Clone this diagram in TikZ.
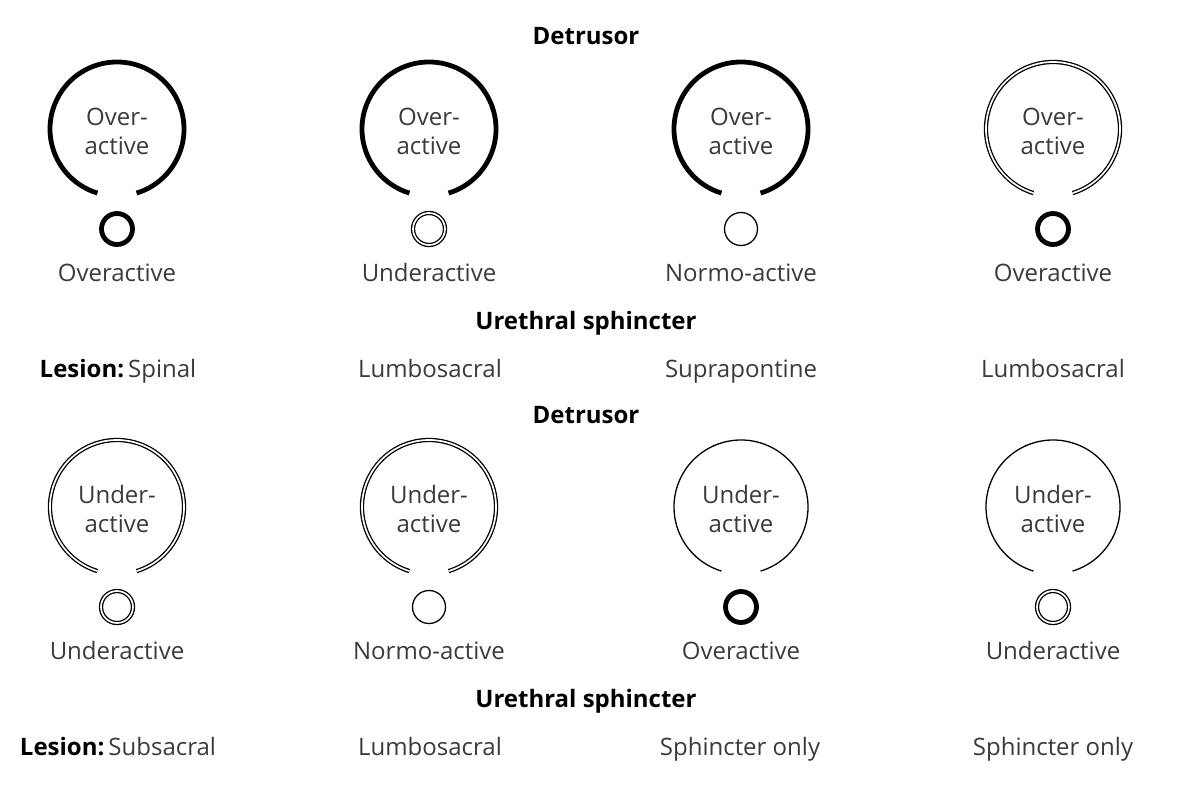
\documentclass[tikz,border=0pt]{standalone}
\usepackage{fontspec}
\setmainfont{Open Sans}
\definecolor{txtgray}{HTML}{3A3A3A}
\begin{document}
\begin{tikzpicture}[x=1pt,y=1pt,
  lbl/.style={font=\fontsize{24}{29}\selectfont, text=txtgray, inner sep=0pt, anchor=base},
  hdr/.style={font=\bfseries\fontsize{24}{29}\selectfont, text=black, inner sep=0pt, anchor=base},
  thickln/.style={draw=black, line width=4.8pt},
  dblln/.style={draw=black, line width=1.3pt, double=white, double distance=1.7pt},
  thinln/.style={draw=black, line width=1.3pt},
  smallc/.style={circle, inner sep=0pt, minimum size=#1},
]
\useasboundingbox (0,0) rectangle (1177,-800);

% column centres
\foreach \r/\dy in {1/0,2/378}{
  \foreach \c/\x in {1/117,2/429,3/741,4/1053}{
    \coordinate (big\r\c) at (\x,-129-\dy);
  }
}

% headings
\node[hdr] (det1) at (586,-45) {Detrusor};
\node[hdr] (det2) at (586,-423) {Detrusor};
\node[hdr] (ure1) at (586,-329) {Urethral sphincter};
\node[hdr] (ure2) at (586,-707) {Urethral sphincter};

% ---------- Row 1 big arcs ----------
\draw[thickln] ([shift={(-73:67)}]big11) arc[start angle=-73, end angle=253, radius=67];
\draw[thickln] ([shift={(-73:67)}]big12) arc[start angle=-73, end angle=253, radius=67];
\draw[thickln] ([shift={(-73:67)}]big13) arc[start angle=-73, end angle=253, radius=67];
\draw[dblln]   ([shift={(-73:67)}]big14) arc[start angle=-73, end angle=253, radius=67];
% ---------- Row 2 big arcs ----------
\draw[dblln]  ([shift={(-73:67)}]big21) arc[start angle=-73, end angle=253, radius=67];
\draw[dblln]  ([shift={(-73:67)}]big22) arc[start angle=-73, end angle=253, radius=67];
\draw[thinln] ([shift={(-73:67)}]big23) arc[start angle=-73, end angle=253, radius=67];
\draw[thinln] ([shift={(-73:67)}]big24) arc[start angle=-73, end angle=253, radius=67];

% inner texts
\foreach \c/\x in {1/117,2/429,3/741,4/1053}{
  \node[lbl] (ov\c) at (\x,-125) {Over-};
  \node[lbl] (ova\c) at (\x,-154) {active};
  \node[lbl] (un\c) at (\x,-503) {Under-};
  \node[lbl] (una\c) at (\x,-532) {active};
}

% ---------- small circles ----------
\node[smallc=31pt, thickln] (s11) at (117,-229) {};
\node[smallc=32pt, dblln]   (s12) at (429,-229) {};
\node[smallc=33pt, thinln]  (s13) at (741,-229) {};
\node[smallc=31pt, thickln] (s14) at (1053,-229) {};
\node[smallc=32pt, dblln]   (s21) at (117,-607) {};
\node[smallc=33pt, thinln]  (s22) at (429,-607) {};
\node[smallc=31pt, thickln] (s23) at (741,-607) {};
\node[smallc=32pt, dblln]   (s24) at (1053,-607) {};

% sphincter labels
\node[lbl] (l11) at (117,-281) {Overactive};
\node[lbl] (l12) at (429,-281) {Underactive};
\node[lbl] (l13) at (741,-281) {Normo-active};
\node[lbl] (l14) at (1053,-281) {Overactive};
\node[lbl] (l21) at (117,-659) {Underactive};
\node[lbl] (l22) at (429,-659) {Normo-active};
\node[lbl] (l23) at (741,-659) {Overactive};
\node[lbl] (l24) at (1053,-659) {Underactive};

% lesion labels
\node[lbl] (les11) at (118,-377) {\textbf{\color{black}Lesion:}\,Spinal};
\node[lbl] (les12) at (430,-377) {Lumbosacral};
\node[lbl] (les13) at (741,-377) {Suprapontine};
\node[lbl] (les14) at (1053,-377) {Lumbosacral};
\node[lbl] (les21) at (118,-755) {\textbf{\color{black}Lesion:}\,Subsacral};
\node[lbl] (les22) at (430,-755) {Lumbosacral};
\node[lbl] (les23) at (740,-755) {Sphincter only};
\node[lbl] (les24) at (1053,-755) {Sphincter only};
\end{tikzpicture}
\end{document}
